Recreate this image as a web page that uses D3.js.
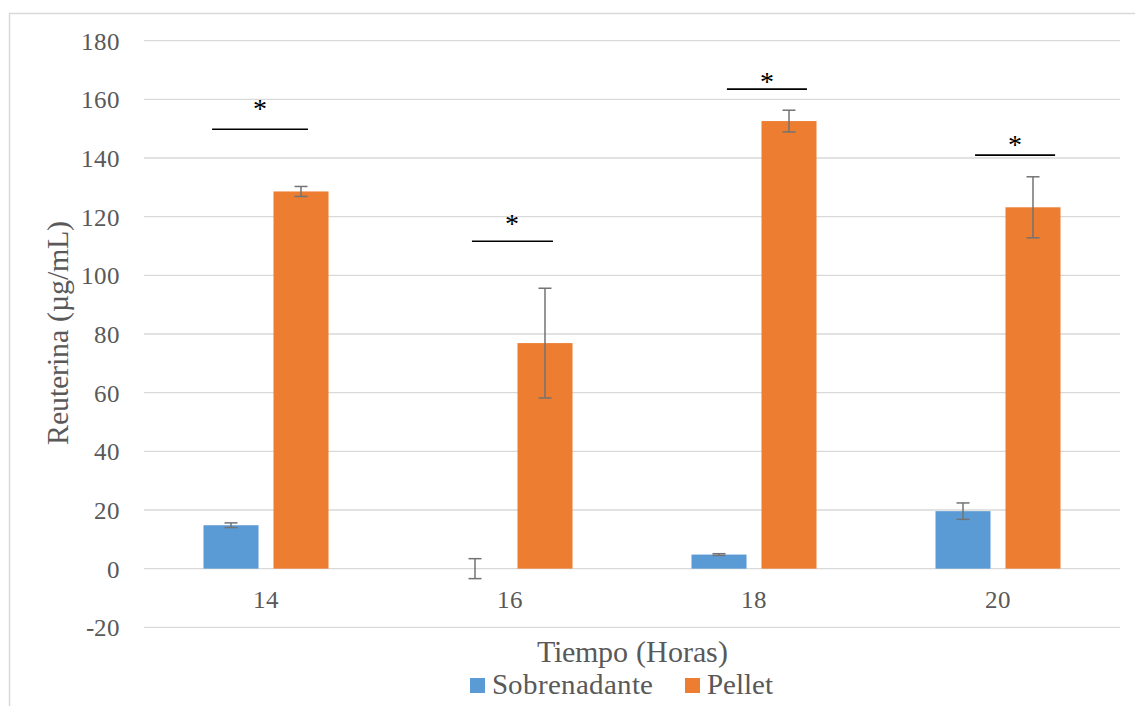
<!DOCTYPE html>
<html><head><meta charset="utf-8">
<script src="https://cdn.jsdelivr.net/npm/d3@7"></script>
<style>
@font-face{font-family:"ChartSerif";src:local("Liberation Serif"),local("LiberationSerif"),local("LiberationSerif-Regular"),local("Times New Roman"),local("DejaVu Serif"),local("DejaVuSerif"),local("Noto Serif");}
body{margin:0;background:#fff}svg{display:block}
svg text{font-family:"ChartSerif","Liberation Serif","Times New Roman","DejaVu Serif",serif !important;}</style>
</head><body>
<svg id="c" width="1135" height="706"></svg>
<script>
const categories = ["14", "16", "18", "20"];
const seriesNames = ["Sobrenadante", "Pellet"];
const sobrenadante = [14.8, 0, 4.8, 19.6];
const sobrenadanteErr = [0.8, 3.4, 0.3, 2.8];
const pellet = [128.6, 76.9, 152.6, 123.2];
const pelletErr = [1.7, 18.7, 3.7, 10.4];
const yTicks = [-20, 0, 20, 40, 60, 80, 100, 120, 140, 160, 180];
// significance annotations: bar level (data units), star level (data units), span relative to band center (fraction of band)
const sigLevel = [149.8, 111.6, 163.5, 141.0];
const starLevel = [158.0, 119.0, 167.2, 145.9];
const sigSpan = [[-0.221, 0.172], [-0.156, 0.176], [-0.111, 0.217], [-0.094, 0.234]];

const colors = ["#5B9BD5", "#ED7D31"];
const svg = d3.select("#c");
const font = "ChartSerif, Liberation Serif, Times New Roman, DejaVu Serif, serif";

svg.append("rect").attr("x", 9.5).attr("y", 13.5).attr("width", 1130).attr("height", 700)
  .attr("fill", "none").attr("stroke", "#d9d9d9").attr("stroke-width", 1.5);

const y = d3.scaleLinear().domain([-20, 180]).range([627.3, 40.7]);
const x0 = d3.scaleBand().domain(categories).range([144, 1120]);
const x1 = d3.scaleBand().domain(seriesNames).range([0, x0.bandwidth()]).paddingInner(0.214).paddingOuter(0.85);

// gridlines
svg.append("g").selectAll("line").data(yTicks).join("line")
  .attr("x1", 144).attr("x2", 1120)
  .attr("y1", d => y(d)).attr("y2", d => y(d))
  .attr("stroke", "#d9d9d9").attr("stroke-width", 1.3);

// y axis labels
const yAxis = d3.axisLeft(y).tickValues(yTicks).tickSize(0).tickPadding(0).tickFormat(d => String(d));
const gy = svg.append("g").attr("transform", "translate(120,0)").call(yAxis);
gy.attr("font-family", null).attr("font-size", null);
gy.select(".domain").remove();
gy.selectAll("text").style("font-family", font).style("font-size", "25px").attr("fill", "#595959").attr("dy", "0.34em");

// x axis labels
const xAxis = d3.axisBottom(x0).tickSize(0).tickPadding(0);
const gx = svg.append("g").attr("transform", "translate(0,590)").call(xAxis);
gx.attr("font-family", null).attr("font-size", null);
gx.select(".domain").remove();
gx.selectAll("text").style("font-family", font).style("font-size", "25px").attr("fill", "#595959").attr("dy", "0.72em");

const data = categories.map((c, i) => ({
  cat: c,
  vals: [
    {s: seriesNames[0], v: sobrenadante[i], e: sobrenadanteErr[i], col: colors[0]},
    {s: seriesNames[1], v: pellet[i], e: pelletErr[i], col: colors[1]}
  ]
}));

const groups = svg.append("g").selectAll("g").data(data).join("g")
  .attr("transform", d => `translate(${x0(d.cat)},0)`);

groups.selectAll("rect").data(d => d.vals).join("rect")
  .attr("x", d => x1(d.s)).attr("width", x1.bandwidth())
  .attr("y", d => y(Math.max(0, d.v)))
  .attr("height", d => Math.abs(y(d.v) - y(0)))
  .attr("fill", d => d.col);

const cap = 6.5;
const eb = groups.selectAll("g.err").data(d => d.vals).join("g").attr("class", "err")
  .attr("stroke", "#737373").attr("stroke-width", 1.5);
eb.append("line")
  .attr("x1", d => x1(d.s) + x1.bandwidth() / 2).attr("x2", d => x1(d.s) + x1.bandwidth() / 2)
  .attr("y1", d => y(d.v + d.e)).attr("y2", d => y(d.v - d.e));
eb.append("line")
  .attr("x1", d => x1(d.s) + x1.bandwidth() / 2 - cap).attr("x2", d => x1(d.s) + x1.bandwidth() / 2 + cap)
  .attr("y1", d => y(d.v + d.e)).attr("y2", d => y(d.v + d.e));
eb.append("line")
  .attr("x1", d => x1(d.s) + x1.bandwidth() / 2 - cap).attr("x2", d => x1(d.s) + x1.bandwidth() / 2 + cap)
  .attr("y1", d => y(d.v - d.e)).attr("y2", d => y(d.v - d.e));

// significance
const bw = x0.bandwidth();
categories.forEach((c, i) => {
  const cx = x0(c) + bw / 2;
  const xa = cx + sigSpan[i][0] * bw, xb = cx + sigSpan[i][1] * bw;
  svg.append("line").attr("x1", xa).attr("x2", xb)
    .attr("y1", y(sigLevel[i])).attr("y2", y(sigLevel[i]))
    .attr("stroke", "#000").attr("stroke-width", 1.6);
  svg.append("text").attr("x", (xa + xb) / 2).attr("y", y(starLevel[i]) + 13)
    .attr("text-anchor", "middle").style("font-family", font).style("font-size", "28px")
    .attr("fill", "#000").text("*");
});

// titles
svg.append("text").attr("transform", "translate(68,333) rotate(-90)")
  .attr("text-anchor", "middle").style("font-family", font).style("font-size", "30px")
  .attr("fill", "#595959").text("Reuterina (µg/mL)");
svg.append("text").attr("x", 632).attr("y", 662)
  .attr("text-anchor", "middle").style("font-family", font).style("font-size", "30px")
  .attr("fill", "#595959").text("Tiempo (Horas)");

// legend
const legX = [470, 685];
const leg = svg.append("g").selectAll("g").data(seriesNames).join("g")
  .attr("transform", (d, i) => `translate(${legX[i]},0)`);
leg.append("rect").attr("x", 0).attr("y", 678).attr("width", 15).attr("height", 15)
  .attr("fill", (d, i) => colors[i]);
leg.append("text").attr("x", 22).attr("y", 694).style("font-family", font).style("font-size", "29px")
  .attr("fill", "#595959").text(d => d);
</script>
</body></html>
